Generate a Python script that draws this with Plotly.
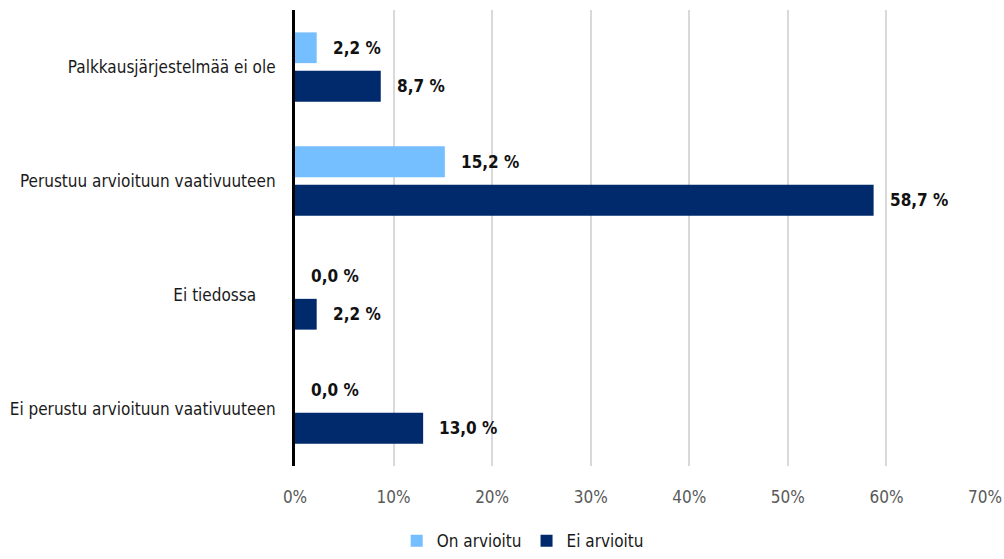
import plotly.graph_objects as go

categories = ['Palkkausjärjestelmää ei ole', 'Perustuu arvioituun vaativuuteen',
              'Ei tiedossa\u00a0\u00a0\u00a0\u00a0', 'Ei perustu arvioituun vaativuuteen']
on_arvioitu = [2.2, 15.2, 0.0, 0.0]
ei_arvioitu = [8.7, 58.7, 2.2, 13.0]
series_names = ['On arvioitu', 'Ei arvioitu']
x_ticks = [0, 10, 20, 30, 40, 50, 60, 70]

FONT = 'Liberation Sans Narrow, DejaVu Sans Condensed, Arial Narrow, sans-serif'
colors = ['#75BEFF', '#002A6C']

fig = go.Figure()
for name, vals, col in zip(series_names, [on_arvioitu, ei_arvioitu], colors):
    fig.add_trace(go.Bar(y=categories, x=vals, name=name, orientation='h',
                         marker=dict(color=col, line=dict(width=0))))

# value labels next to the bar ends
annotations = []
for vals, shift in [(on_arvioitu, 19), (ei_arvioitu, -19)]:
    for cat, v in zip(categories, vals):
        annotations.append(dict(
            x=v, y=cat, xref='x', yref='y', text='<b>%s %%</b>' % f'{v:.1f}'.replace('.', ','),
            showarrow=False, xanchor='left', xshift=14, yshift=shift,
            font=dict(family=FONT, size=17, color='#111111')))

fig.update_layout(
    width=1004, height=559,
    margin=dict(l=295, r=19, t=10, b=93, autoexpand=False),
    plot_bgcolor='white', paper_bgcolor='white',
    barmode='group', bargap=0.325, bargroupgap=0.2,
    font=dict(family=FONT, size=17, color='#1a1a1a'),
    annotations=annotations,
    legend=dict(orientation='h', x=0.33, xanchor='center', y=-0.165, yanchor='middle',
                font=dict(family=FONT, size=17, color='#1a1a1a'), traceorder='normal',
                itemwidth=30),
    xaxis=dict(range=[0, 70], tickvals=x_ticks, ticktext=[f'{t}%' for t in x_ticks],
               showgrid=True, gridcolor='#d9d9d9', gridwidth=1.5, zeroline=False,
               showline=False, tickfont=dict(family=FONT, size=17, color='#595959'),
               ticks='', ticklabelstandoff=19, automargin=False),
    yaxis=dict(autorange='reversed', showline=True, linecolor='black', linewidth=3,
               showgrid=False, ticks='', ticklabelstandoff=13, automargin=False,
               tickfont=dict(family=FONT, size=17, color='#1a1a1a')),
)

# page body has a default margin that would shift the chart
fig.write_html('out.html', config={'displayModeBar': False},
               post_script="document.body.style.margin='0';")
